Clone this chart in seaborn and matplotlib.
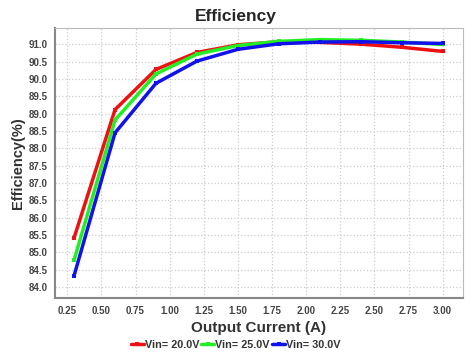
import pandas as pd
import seaborn as sns
import matplotlib.pyplot as plt

current = [0.3, 0.6, 0.9, 1.2, 1.5, 1.8, 2.1, 2.4, 2.7, 3.0]
eff_20v = [85.42, 89.12, 90.28, 90.77, 90.99, 91.08, 91.06, 91.01, 90.92, 90.80]
eff_25v = [84.78, 88.82, 90.15, 90.72, 90.97, 91.09, 91.14, 91.12, 91.07, 91.00]
eff_30v = [84.33, 88.45, 89.88, 90.52, 90.86, 91.02, 91.07, 91.08, 91.05, 91.03]
labels = ["Vin= 20.0V", "Vin= 25.0V", "Vin= 30.0V"]
colors = ["#ee1111", "#22ee22", "#1111ee"]

df = pd.concat([
    pd.DataFrame({"current": current, "eff": vals, "series": lab})
    for vals, lab in zip([eff_20v, eff_25v, eff_30v], labels)
])

sns.set_style("white")
plt.rcParams['font.family'] = ['Liberation Sans', 'DejaVu Sans']

fig, ax = plt.subplots(figsize=(4.74, 3.57), dpi=100)
sns.lineplot(data=df, x="current", y="eff", hue="series", palette=colors,
             marker="s", markersize=3, markeredgewidth=0, linewidth=2.5, ax=ax)

ax.set_xlim(0.16, 3.15)
ax.set_ylim(83.68, 91.48)
ax.set_xticks([0.25, 0.5, 0.75, 1.0, 1.25, 1.5, 1.75, 2.0, 2.25, 2.5, 2.75, 3.0])
ax.set_yticks([84 + 0.5 * i for i in range(15)])
ax.xaxis.set_major_formatter(plt.FormatStrFormatter("%.2f"))
ax.yaxis.set_major_formatter(plt.FormatStrFormatter("%.1f"))
ax.grid(True, color="#cccccc", linestyle=":", linewidth=0.9)
ax.tick_params(labelsize=7, labelcolor="#444444", length=0)
ax.tick_params(axis="x", pad=6)
ax.tick_params(axis="y", pad=5)
for t in ax.get_xticklabels() + ax.get_yticklabels():
    t.set_fontweight("bold")
for s in ax.spines.values():
    s.set_color("#bbbbbb")
ax.spines["left"].set_color("#888888")
ax.spines["bottom"].set_color("#888888")
ax.spines["left"].set_linewidth(1.5)
ax.spines["bottom"].set_linewidth(1.5)

fig.suptitle("Efficiency", x=0.498, y=0.975, fontsize=12.5, fontweight="bold")
ax.set_xlabel("Output Current (A)", fontsize=11, fontweight="bold", color="#333333", labelpad=3)
ax.set_ylabel("Efficiency(%)", fontsize=10.5, fontweight="bold", color="#333333", labelpad=3)

handles, labs = ax.get_legend_handles_labels()
ax.get_legend().remove()
leg = fig.legend(handles, labs, loc="center", bbox_to_anchor=(0.497, 0.035), ncol=3,
                 frameon=False, handlelength=1.2, handletextpad=0.1,
                 columnspacing=0.2, prop={"weight": "bold", "size": 7.8})
for t in leg.get_texts():
    t.set_color("#333333")

plt.subplots_adjust(left=0.116, right=0.977, top=0.922, bottom=0.165)
plt.savefig("out.png", dpi=100)
